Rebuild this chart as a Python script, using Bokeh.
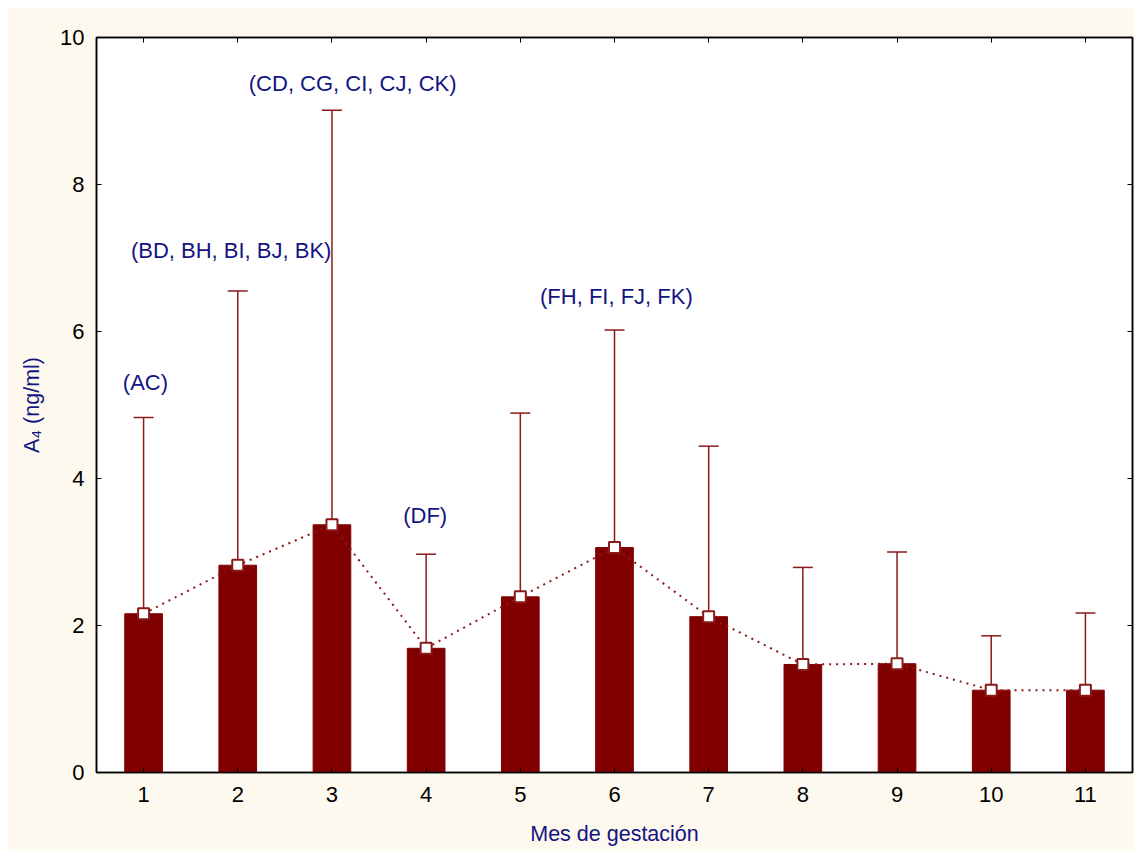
from bokeh.plotting import figure
from bokeh.models import (ColumnDataSource, Whisker, TeeHead, FixedTicker, LinearAxis,
                          Range1d, Spacer, CustomJSTickFormatter)
from bokeh.layouts import row, column
from bokeh.core.properties import value
from bokeh.embed import file_html
from bokeh.resources import INLINE

months = [1, 2, 3, 4, 5, 6, 7, 8, 9, 10, 11]
means = [2.16, 2.82, 3.37, 1.69, 2.39, 3.06, 2.12, 1.47, 1.48, 1.12, 1.12]
uppers = [4.83, 6.55, 9.01, 2.97, 4.89, 6.02, 4.44, 2.79, 3.00, 1.86, 2.17]

notes = ["(AC)", "(BD, BH, BI, BJ, BK)", "(CD, CG, CI, CJ, CK)", "(DF)", "(FH, FI, FJ, FK)"]
note_x = [1.02, 1.93, 3.22, 3.99, 6.02]
note_y = [5.31, 7.10, 9.37, 3.50, 6.48]

x_ticks = months
y_ticks = [0, 2, 4, 6, 8, 10]

BAR = "#800000"
ERR = "#8b1a1a"
NAVY = "#141482"
CREAM = "#fdf9ef"
FONT = "Liberation Sans"

src = ColumnDataSource(dict(x=months, mean=means, upper=uppers))

p = figure(width=1127, height=844, output_backend="svg", toolbar_location=None,
           x_range=Range1d(0.5, 11.5), y_range=Range1d(0, 10),
           min_border_left=89, min_border_top=30, min_border_right=2, min_border_bottom=79)
p.background_fill_color = "white"
p.border_fill_color = CREAM
p.outline_line_color = "black"
p.outline_line_width = 1.5
p.xgrid.visible = False
p.ygrid.visible = False

p.vbar(x="x", top="mean", bottom=0, width=0.40, source=src, fill_color=BAR, line_color=BAR)
p.add_layout(Whisker(source=src, base="x", upper="upper", lower="mean",
                     upper_head=TeeHead(size=20, line_color=ERR, line_width=1.5),
                     lower_head=None, line_color=ERR, line_width=1.5))
p.line(x="x", y="mean", source=src, line_color=ERR, line_width=2, line_dash="2 5")
p.scatter(x="x", y="mean", source=src, marker="square", size=11,
          fill_color="white", line_color=ERR, line_width=2)

p.text(x=note_x, y=note_y, text=notes, text_align="center", text_baseline="middle",
       text_font=value(FONT), text_font_size="22px", text_color=NAVY)

for ax in (p.xaxis[0], p.yaxis[0]):
    ax.major_tick_in = 5
    ax.major_tick_out = 0
    ax.minor_tick_line_color = None
    ax.axis_line_color = "black"
    ax.axis_line_width = 1.5
    ax.major_label_text_font = FONT
    ax.major_label_text_font_size = "22px"
    ax.major_label_text_color = "black"
    ax.axis_label_text_font = FONT
    ax.axis_label_text_font_size = "21.5px"
    ax.axis_label_text_font_style = "normal"
    ax.axis_label_text_color = NAVY

p.xaxis[0].ticker = FixedTicker(ticks=x_ticks)
p.yaxis[0].ticker = FixedTicker(ticks=y_ticks)
p.xaxis[0].axis_label = "Mes de gestación"
p.yaxis[0].axis_label = "A\u2084 (ng/ml)"
p.xaxis[0].major_label_standoff = 14
p.xaxis[0].axis_label_standoff = 17
p.yaxis[0].major_label_standoff = 12
p.yaxis[0].axis_label_standoff = 13

blank = CustomJSTickFormatter(code="return ''")
top_ax = LinearAxis(ticker=FixedTicker(ticks=x_ticks), major_tick_in=5, major_tick_out=0,
                    minor_tick_line_color=None, formatter=blank,
                    major_label_standoff=0, axis_line_width=1.5)
right_ax = LinearAxis(ticker=FixedTicker(ticks=y_ticks), major_tick_in=5, major_tick_out=0,
                      minor_tick_line_color=None, formatter=blank,
                      major_label_standoff=0, axis_line_width=1.5)
p.add_layout(top_ax, "above")
p.add_layout(right_ax, "right")

layout = row(Spacer(width=7), column(Spacer(height=7), p))
open("out.html", "w").write(file_html(layout, INLINE))
